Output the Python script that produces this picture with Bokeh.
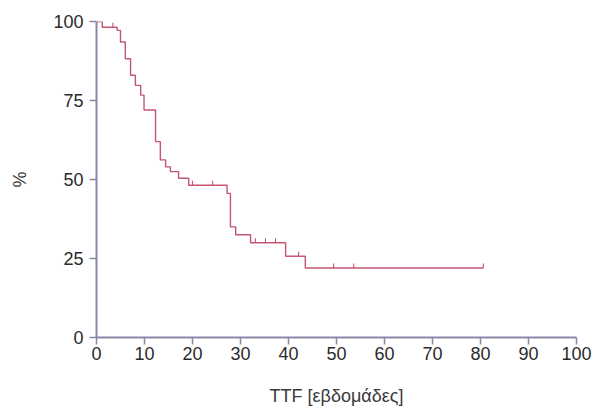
from bokeh.plotting import figure
from bokeh.models import FixedTicker, Range1d, ColumnDataSource
from bokeh.embed import file_html
from bokeh.resources import INLINE

# Kaplan-Meier style step data
time = [0, 1.2, 4.3, 5.0, 6.0, 7.1, 8.1, 9.2, 9.9, 12.3, 13.3, 14.4, 15.4, 17.1,
        19.2, 27.2, 27.9, 29.0, 32.1, 39.4, 43.5, 80.6]
surv = [100, 98.2, 97.2, 93.5, 88.2, 83.0, 79.8, 76.7, 72.0, 62.0, 56.2, 54.0,
        52.5, 50.4, 48.2, 45.6, 35.0, 32.5, 30.0, 25.7, 22.0, 22.0]

# censored observations
cens_time = [3.4, 20.0, 24.2, 33.1, 35.2, 37.3, 42.1, 49.4, 53.6, 80.6]
cens_surv = [98.2, 48.2, 48.2, 30.0, 30.0, 30.0, 25.7, 22.0, 22.0, 22.0]

x_ticks = [0, 10, 20, 30, 40, 50, 60, 70, 80, 90, 100]
y_ticks = [0, 25, 50, 75, 100]

CURVE = "#c45672"
AXIS = "#8787a8"
FONT = "Liberation Sans"

p = figure(width=600, height=408, output_backend="svg", toolbar_location=None,
           x_range=Range1d(0, 100), y_range=Range1d(0, 100),
           min_border_left=96, min_border_right=24, min_border_top=21,
           min_border_bottom=70)
p.outline_line_color = None
p.xgrid.visible = False
p.ygrid.visible = False
p.background_fill_color = "white"

p.step(time, surv, mode="after", line_color=CURVE, line_width=1.4)

tick_len = 1.4
src = ColumnDataSource(dict(x=cens_time, y0=cens_surv,
                            y1=[v + tick_len for v in cens_surv]))
p.segment(x0="x", x1="x", y0="y0", y1="y1", source=src,
          line_color=CURVE, line_width=1.1)

for ax in (p.xaxis[0], p.yaxis[0]):
    ax.axis_line_color = AXIS
    ax.axis_line_width = 2
    ax.major_tick_line_color = AXIS
    ax.major_tick_line_width = 1.5
    ax.major_tick_out = 7
    ax.major_tick_in = 0
    ax.minor_tick_line_color = None
    ax.major_label_text_font = FONT
    ax.major_label_text_font_size = "18px"
    ax.major_label_text_color = "#2a2a2a"
    ax.axis_label_text_font = FONT
    ax.axis_label_text_font_size = "18px"
    ax.axis_label_text_font_style = "normal"
    ax.axis_label_text_color = "#3a3a3a"

p.xaxis.ticker = FixedTicker(ticks=x_ticks)
p.yaxis.ticker = FixedTicker(ticks=y_ticks)
p.xaxis.axis_label = "TTF [εβδομάδες]"
p.yaxis.axis_label = "%"
p.xaxis.major_label_standoff = 2
p.yaxis.major_label_standoff = 6
p.xaxis.axis_label_standoff = 23
p.yaxis.axis_label_standoff = 20

open("out.html", "w").write(file_html(p, INLINE))
